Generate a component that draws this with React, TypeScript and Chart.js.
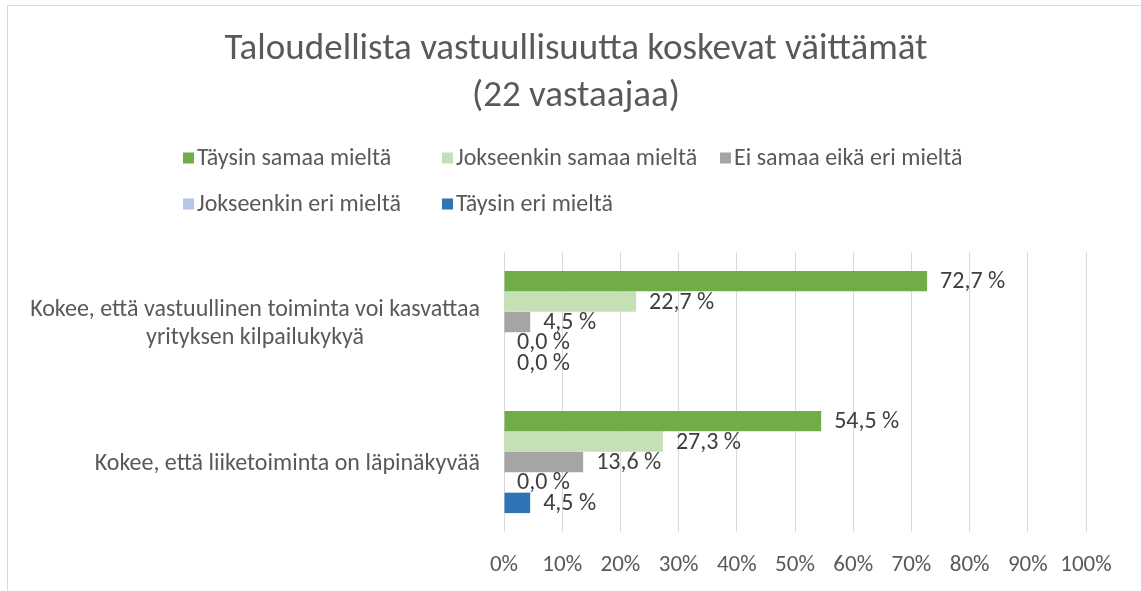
import React, { useEffect, useRef } from "react";
import { Chart, registerables } from "chart.js";

Chart.register(...registerables);

const titleLines = ["Taloudellista vastuullisuutta koskevat väittämät", "(22 vastaajaa)"];
const categories: string[][] = [
  ["Kokee, että vastuullinen toiminta voi kasvattaa", "yrityksen kilpailukykyä"],
  ["Kokee, että liiketoiminta on läpinäkyvää"],
];
const seriesNames = [
  "Täysin samaa mieltä",
  "Jokseenkin samaa mieltä",
  "Ei samaa eikä eri mieltä",
  "Jokseenkin eri mieltä",
  "Täysin eri mieltä",
];
const taysinSamaa = [72.7, 54.5];
const jokseenkinSamaa = [22.7, 27.3];
const eiSamaaEikaEri = [4.5, 13.6];
const jokseenkinEri = [0.0, 0.0];
const taysinEri = [0.0, 4.5];
const seriesColors = ["#70AD47", "#C5E0B4", "#A5A5A5", "#B4C7E7", "#2E75B6"];
const xMax = 100;
const xStep = 10;

const FONT = "Carlito, Calibri, Lato, 'Noto Sans', sans-serif";
const TEXT = "#595959";
const LABEL = "#404040";

const decoPlugin = {
  id: "deco",
  beforeDraw(chart: any) {
    const ctx = chart.ctx;
    ctx.save();
    ctx.fillStyle = "#ffffff";
    ctx.fillRect(0, 0, chart.width, chart.height);
    ctx.strokeStyle = "#d9d9d9";
    ctx.lineWidth = 1;
    ctx.strokeRect(7.5, 5.5, chart.width + 100, chart.height + 100);
    ctx.restore();
  },
  afterDatasetsDraw(chart: any) {
    const ctx = chart.ctx;
    ctx.save();
    ctx.font = `24px ${FONT}`;
    ctx.fillStyle = LABEL;
    ctx.textAlign = "left";
    ctx.textBaseline = "middle";
    chart.data.datasets.forEach((ds: any, di: number) => {
      const meta = chart.getDatasetMeta(di);
      meta.data.forEach((el: any, i: number) => {
        const v = ds.data[i] as number;
        const txt = v.toFixed(1).replace(".", ",") + " %";
        ctx.fillText(txt, el.x + 13, el.y + 1);
      });
    });
    ctx.restore();
  },
  afterDraw(chart: any) {
    const ctx = chart.ctx;
    ctx.save();
    // Title
    ctx.font = `37px ${FONT}`;
    ctx.fillStyle = TEXT;
    ctx.textAlign = "center";
    ctx.textBaseline = "middle";
    const cx = (chart.width + 11) / 2;
    titleLines.forEach((t, i) => ctx.fillText(t, cx, 50 + i * 47));

    // Legend (grid layout)
    const rows = [[0, 1, 2], [3, 4]];
    const colX = [183, 442, 720];
    const rowY = [158, 204];
    ctx.font = `24px ${FONT}`;
    ctx.textAlign = "left";
    rows.forEach((r, ri) => {
      r.forEach((si, ci) => {
        const x = colX[ci];
        const y = rowY[ri];
        ctx.fillStyle = seriesColors[si];
        ctx.fillRect(x, y - 5.5, 11, 11);
        ctx.fillStyle = TEXT;
        ctx.fillText(seriesNames[si], x + 14, y + 1);
      });
    });

    // Category labels (each centered in its own box, box right-aligned to the axis)
    const yScale = chart.scales.y;
    const right = chart.chartArea.left - 24;
    const lineH = 28;
    categories.forEach((lines, i) => {
      const widest = Math.max(...lines.map((l) => ctx.measureText(l).width));
      const lx = right - widest / 2;
      const yc = yScale.getPixelForTick(i);
      const y0 = yc - ((lines.length - 1) * lineH) / 2 + 2;
      ctx.textAlign = "center";
      ctx.fillStyle = TEXT;
      lines.forEach((l, li) => ctx.fillText(l, lx, y0 + li * lineH));
    });
    ctx.restore();
  },
};

export default function App() {
  const ref = useRef<HTMLCanvasElement | null>(null);
  useEffect(() => {
    if (!ref.current) return;
    const seriesData = [taysinSamaa, jokseenkinSamaa, eiSamaaEikaEri, jokseenkinEri, taysinEri];
    const chart = new Chart(ref.current, {
      type: "bar",
      data: {
        labels: categories.map((c) => c.join(" ")),
        datasets: seriesNames.map((name, i) => ({
          label: name,
          data: seriesData[i],
          backgroundColor: seriesColors[i],
          borderWidth: 0,
          categoryPercentage: 0.73,
          barPercentage: 1.0,
        })),
      },
      options: {
        indexAxis: "y",
        responsive: false,
        animation: false,
        layout: { padding: { top: 252, left: 12, right: 55, bottom: 12 } },
        plugins: {
          legend: { display: false },
          title: { display: false },
          tooltip: { enabled: false },
        },
        scales: {
          x: {
            min: 0,
            max: xMax,
            grid: { color: "#d9d9d9", lineWidth: 1, drawTicks: false },
            border: { display: false },
            ticks: {
              stepSize: xStep,
              padding: 19,
              color: TEXT,
              font: { family: FONT, size: 23 },
              callback: (v: any) => `${v}%`,
            },
            afterFit: (s: any) => {
              s.height = 47;
            },
          },
          y: {
            grid: { display: false, drawTicks: false },
            border: { display: false },
            ticks: { display: false },
            afterFit: (s: any) => {
              s.width = 492;
            },
          },
        },
      },
      plugins: [decoPlugin],
    });
    return () => chart.destroy();
  }, []);
  return (
    <div style={{ position: "absolute", left: 0, top: 0, width: 1141, height: 591, background: "#fff" }}>
      <canvas ref={ref} width={1141} height={591} style={{ display: "block" }} />
    </div>
  );
}
